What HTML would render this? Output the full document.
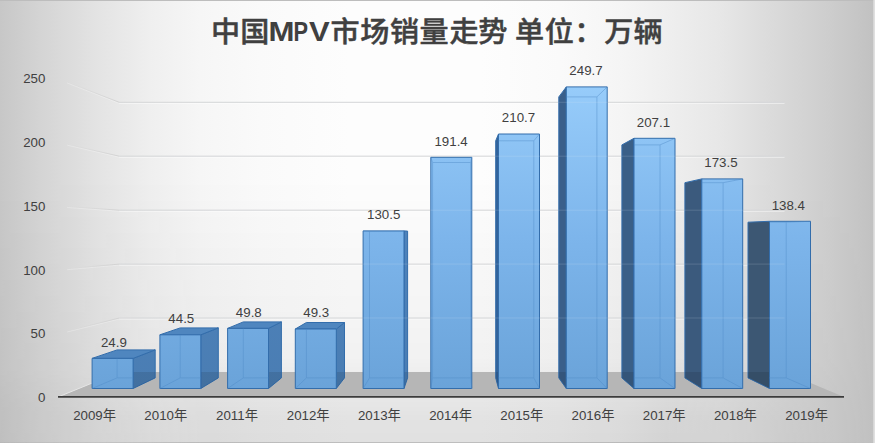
<!DOCTYPE html>
<html lang="zh"><head><meta charset="utf-8"><title>中国MPV市场销量走势</title>
<style>html,body{margin:0;padding:0;background:#d0d0d0}body{width:875px;height:443px;overflow:hidden}svg{display:block}</style></head>
<body>
<svg width="875" height="443" viewBox="0 0 875 443">
<defs>
<linearGradient id="bgh" x1="0" y1="0" x2="1" y2="0"><stop offset="0.0000" stop-color="rgb(199,199,199)"/><stop offset="0.0457" stop-color="rgb(212,212,212)"/><stop offset="0.1143" stop-color="rgb(228,228,228)"/><stop offset="0.1714" stop-color="rgb(239,239,239)"/><stop offset="0.2286" stop-color="rgb(246,246,246)"/><stop offset="0.2971" stop-color="rgb(250,250,250)"/><stop offset="0.4000" stop-color="rgb(253,253,253)"/><stop offset="0.5486" stop-color="rgb(253,253,253)"/><stop offset="0.6400" stop-color="rgb(250,250,250)"/><stop offset="0.7086" stop-color="rgb(245,245,245)"/><stop offset="0.7600" stop-color="rgb(239,239,239)"/><stop offset="0.8229" stop-color="rgb(231,231,231)"/><stop offset="0.8800" stop-color="rgb(219,219,219)"/><stop offset="0.9486" stop-color="rgb(205,205,205)"/><stop offset="1.0000" stop-color="rgb(193,193,193)"/></linearGradient>
<linearGradient id="bgv" x1="0" y1="0" x2="0" y2="1"><stop offset="0" stop-color="#000" stop-opacity="0"/><stop offset="0.4" stop-color="#000" stop-opacity="0"/><stop offset="0.81" stop-color="#000" stop-opacity="0.045"/><stop offset="0.9" stop-color="#000" stop-opacity="0.085"/><stop offset="0.95" stop-color="#000" stop-opacity="0.105"/><stop offset="1" stop-color="#000" stop-opacity="0.11"/></linearGradient>
<linearGradient id="bgm" x1="0" y1="0" x2="1" y2="0"><stop offset="0" stop-color="#595959"/><stop offset="0.114" stop-color="#999"/><stop offset="0.23" stop-color="#fff"/><stop offset="0.76" stop-color="#fff"/><stop offset="0.88" stop-color="#808080"/><stop offset="1" stop-color="#000"/></linearGradient>
<mask id="mk" maskUnits="userSpaceOnUse" x="0" y="0" width="875" height="443"><rect width="875" height="443" fill="url(#bgm)"/></mask>
<linearGradient id="ff" gradientUnits="userSpaceOnUse" x1="0" y1="86" x2="0" y2="389"><stop offset="0" stop-color="#97ccfa"/><stop offset="0.5" stop-color="#7db5eb"/><stop offset="1" stop-color="#6aa3d9"/></linearGradient>
<linearGradient id="sr" gradientUnits="userSpaceOnUse" x1="0" y1="86" x2="0" y2="389"><stop offset="0" stop-color="#5288c2"/><stop offset="1" stop-color="#4a7db3"/></linearGradient>
<linearGradient id="sl" gradientUnits="userSpaceOnUse" x1="0" y1="86" x2="0" y2="389"><stop offset="0" stop-color="#3f6a99"/><stop offset="1" stop-color="#3a5a7e"/></linearGradient>
</defs>
<rect width="875" height="443" fill="url(#bgh)"/>
<rect width="875" height="443" fill="url(#bgv)" mask="url(#mk)"/>
<rect x="0" y="442.3" width="875" height="0.7" fill="#9a9a9a" opacity="0.7" mask="url(#mk)"/>
<rect x="0" y="0" width="875" height="1" fill="#bdbdbd"/>
<rect x="873.3" y="0" width="1.7" height="443" fill="#e0e0e0"/>
<polygon points="58.0,397.0 844.0,397.0 784.5,372.0 119.2,372.0" fill="#b6b6b6"/>
<line x1="58.0" y1="397.0" x2="119.2" y2="372.0" stroke="#e6e6e6" stroke-width="1"/>
<line x1="119.2" y1="319.0" x2="784.5" y2="319.0" stroke="#ffffff" stroke-width="1" opacity="0.6"/>
<line x1="119.2" y1="318.0" x2="784.5" y2="318.0" stroke="#d4d4d4" stroke-width="1"/>
<linearGradient id="g50" gradientUnits="userSpaceOnUse" x1="67.2" y1="0" x2="119.2" y2="0"><stop offset="0" stop-color="#d2d2d2" stop-opacity="0"/><stop offset="1" stop-color="#d2d2d2"/></linearGradient>
<line x1="67.2" y1="332.0" x2="119.2" y2="319.0" stroke="#fff" stroke-width="1" opacity="0.25"/>
<line x1="67.2" y1="331.0" x2="119.2" y2="318.0" stroke="url(#g50)" stroke-width="1"/>
<line x1="119.2" y1="265.1" x2="784.5" y2="265.1" stroke="#ffffff" stroke-width="1" opacity="0.6"/>
<line x1="119.2" y1="264.1" x2="784.5" y2="264.1" stroke="#d4d4d4" stroke-width="1"/>
<linearGradient id="g100" gradientUnits="userSpaceOnUse" x1="67.2" y1="0" x2="119.2" y2="0"><stop offset="0" stop-color="#d2d2d2" stop-opacity="0"/><stop offset="1" stop-color="#d2d2d2"/></linearGradient>
<line x1="67.2" y1="269.7" x2="119.2" y2="265.1" stroke="#fff" stroke-width="1" opacity="0.25"/>
<line x1="67.2" y1="268.7" x2="119.2" y2="264.1" stroke="url(#g100)" stroke-width="1"/>
<line x1="119.2" y1="211.2" x2="784.5" y2="211.2" stroke="#ffffff" stroke-width="1" opacity="0.6"/>
<line x1="119.2" y1="210.2" x2="784.5" y2="210.2" stroke="#d4d4d4" stroke-width="1"/>
<linearGradient id="g150" gradientUnits="userSpaceOnUse" x1="67.2" y1="0" x2="119.2" y2="0"><stop offset="0" stop-color="#d2d2d2" stop-opacity="0"/><stop offset="1" stop-color="#d2d2d2"/></linearGradient>
<line x1="67.2" y1="207.5" x2="119.2" y2="211.2" stroke="#fff" stroke-width="1" opacity="0.25"/>
<line x1="67.2" y1="206.5" x2="119.2" y2="210.2" stroke="url(#g150)" stroke-width="1"/>
<line x1="119.2" y1="157.2" x2="784.5" y2="157.2" stroke="#ffffff" stroke-width="1" opacity="0.6"/>
<line x1="119.2" y1="156.2" x2="784.5" y2="156.2" stroke="#d4d4d4" stroke-width="1"/>
<linearGradient id="g200" gradientUnits="userSpaceOnUse" x1="67.2" y1="0" x2="119.2" y2="0"><stop offset="0" stop-color="#d2d2d2" stop-opacity="0"/><stop offset="1" stop-color="#d2d2d2"/></linearGradient>
<line x1="67.2" y1="145.2" x2="119.2" y2="157.2" stroke="#fff" stroke-width="1" opacity="0.25"/>
<line x1="67.2" y1="144.2" x2="119.2" y2="156.2" stroke="url(#g200)" stroke-width="1"/>
<line x1="119.2" y1="103.3" x2="784.5" y2="103.3" stroke="#ffffff" stroke-width="1" opacity="0.6"/>
<line x1="119.2" y1="102.3" x2="784.5" y2="102.3" stroke="#d4d4d4" stroke-width="1"/>
<linearGradient id="g250" gradientUnits="userSpaceOnUse" x1="67.2" y1="0" x2="119.2" y2="0"><stop offset="0" stop-color="#d2d2d2" stop-opacity="0"/><stop offset="1" stop-color="#d2d2d2"/></linearGradient>
<line x1="67.2" y1="83.0" x2="119.2" y2="103.3" stroke="#fff" stroke-width="1" opacity="0.25"/>
<line x1="67.2" y1="82.0" x2="119.2" y2="102.3" stroke="url(#g250)" stroke-width="1"/>
<g stroke="#336dab" stroke-width="1" stroke-linejoin="round">
<polygon points="133.1,358.4 155.2,349.9 155.2,377.9 133.1,388.5" fill="url(#sr)"/>
<polygon points="133.1,372.0 155.2,372.0 155.2,377.9 133.1,388.5" fill="#000" fill-opacity="0.1" stroke="none"/>
<polygon points="92.1,358.4 133.1,358.4 155.2,349.9 117.1,349.9" fill="#4f86bf"/>
<polygon points="92.1,358.4 133.1,358.4 133.1,388.5 92.1,388.5" fill="url(#ff)"/>
</g>
<g stroke="#4f8ac6" stroke-width="0.8" opacity="0.55" fill="none">
<line x1="117.1" y1="358.4" x2="117.1" y2="377.9" />
<line x1="117.1" y1="377.9" x2="133.1" y2="377.9" />
<line x1="92.1" y1="388.5" x2="117.1" y2="377.9" />
</g>
<g stroke="#336dab" stroke-width="1" stroke-linejoin="round">
<polygon points="200.8,334.8 218.3,327.9 218.3,377.9 200.8,388.5" fill="url(#sr)"/>
<polygon points="200.8,372.0 218.3,372.0 218.3,377.9 200.8,388.5" fill="#000" fill-opacity="0.1" stroke="none"/>
<polygon points="159.9,334.8 200.8,334.8 218.3,327.9 180.2,327.9" fill="#4f86bf"/>
<polygon points="159.9,334.8 200.8,334.8 200.8,388.5 159.9,388.5" fill="url(#ff)"/>
</g>
<g stroke="#4f8ac6" stroke-width="0.8" opacity="0.55" fill="none">
<line x1="180.2" y1="334.8" x2="180.2" y2="377.9" />
<line x1="180.2" y1="377.9" x2="200.8" y2="377.9" />
<line x1="159.9" y1="388.5" x2="180.2" y2="377.9" />
</g>
<g stroke="#336dab" stroke-width="1" stroke-linejoin="round">
<polygon points="268.5,328.4 281.4,321.9 281.4,377.9 268.5,388.5" fill="url(#sr)"/>
<polygon points="268.5,372.0 281.4,372.0 281.4,377.9 268.5,388.5" fill="#000" fill-opacity="0.1" stroke="none"/>
<polygon points="227.6,328.4 268.5,328.4 281.4,321.9 243.3,321.9" fill="#4f86bf"/>
<polygon points="227.6,328.4 268.5,328.4 268.5,388.5 227.6,388.5" fill="url(#ff)"/>
</g>
<g stroke="#4f8ac6" stroke-width="0.8" opacity="0.55" fill="none">
<line x1="243.3" y1="328.4" x2="243.3" y2="377.9" />
<line x1="243.3" y1="377.9" x2="268.5" y2="377.9" />
<line x1="227.6" y1="388.5" x2="243.3" y2="377.9" />
</g>
<g stroke="#336dab" stroke-width="1" stroke-linejoin="round">
<polygon points="336.3,329.0 344.5,322.5 344.5,377.9 336.3,388.5" fill="url(#sr)"/>
<polygon points="336.3,372.0 344.5,372.0 344.5,377.9 336.3,388.5" fill="#000" fill-opacity="0.1" stroke="none"/>
<polygon points="295.3,329.0 336.3,329.0 344.5,322.5 306.4,322.5" fill="#4f86bf"/>
<polygon points="295.3,329.0 336.3,329.0 336.3,388.5 295.3,388.5" fill="url(#ff)"/>
</g>
<g stroke="#4f8ac6" stroke-width="0.8" opacity="0.55" fill="none">
<line x1="306.4" y1="329.0" x2="306.4" y2="377.9" />
<line x1="306.4" y1="377.9" x2="336.3" y2="377.9" />
<line x1="295.3" y1="388.5" x2="306.4" y2="377.9" />
</g>
<g stroke="#336dab" stroke-width="1" stroke-linejoin="round">
<polygon points="404.0,230.9 407.6,231.1 407.6,377.9 404.0,388.5" fill="url(#sr)"/>
<polygon points="404.0,372.0 407.6,372.0 407.6,377.9 404.0,388.5" fill="#000" fill-opacity="0.1" stroke="none"/>
<polygon points="363.1,230.9 404.0,230.9 404.0,388.5 363.1,388.5" fill="url(#ff)"/>
</g>
<g stroke="#4f8ac6" stroke-width="0.8" opacity="0.55" fill="none">
<line x1="369.5" y1="231.1" x2="369.5" y2="377.9" />
<line x1="369.5" y1="377.9" x2="404.0" y2="377.9" />
<line x1="363.1" y1="388.5" x2="369.5" y2="377.9" />
<line x1="363.1" y1="230.9" x2="369.5" y2="231.1" />
<line x1="369.5" y1="231.1" x2="404.0" y2="231.1" />
</g>
<g stroke="#336dab" stroke-width="1" stroke-linejoin="round">
<polygon points="430.8,157.3 471.8,157.3 471.8,388.5 430.8,388.5" fill="url(#ff)"/>
</g>
<g stroke="#4f8ac6" stroke-width="0.8" opacity="0.55" fill="none">
<line x1="432.6" y1="162.5" x2="432.6" y2="377.9" />
<line x1="470.7" y1="162.5" x2="470.7" y2="377.9" />
<line x1="432.6" y1="377.9" x2="470.7" y2="377.9" />
<line x1="430.8" y1="388.5" x2="432.6" y2="377.9" />
<line x1="471.8" y1="388.5" x2="470.7" y2="377.9" />
<line x1="430.8" y1="157.3" x2="432.6" y2="162.5" />
<line x1="471.8" y1="157.3" x2="470.7" y2="162.5" />
<line x1="432.6" y1="162.5" x2="470.7" y2="162.5" />
</g>
<g stroke="#336dab" stroke-width="1" stroke-linejoin="round">
<polygon points="498.5,134.0 495.7,140.8 495.7,377.9 498.5,388.5" fill="#33639a"/>
<polygon points="498.5,372.0 495.7,372.0 495.7,377.9 498.5,388.5" fill="#000" fill-opacity="0.1" stroke="none"/>
<polygon points="498.5,134.0 539.5,134.0 539.5,388.5 498.5,388.5" fill="url(#ff)"/>
</g>
<g stroke="#4f8ac6" stroke-width="0.8" opacity="0.55" fill="none">
<line x1="533.8" y1="140.8" x2="533.8" y2="377.9" />
<line x1="533.8" y1="377.9" x2="498.5" y2="377.9" />
<line x1="539.5" y1="388.5" x2="533.8" y2="377.9" />
<line x1="539.5" y1="134.0" x2="533.8" y2="140.8" />
<line x1="533.8" y1="140.8" x2="498.5" y2="140.8" />
</g>
<g stroke="#336dab" stroke-width="1" stroke-linejoin="round">
<polygon points="566.3,86.9 558.8,96.9 558.8,377.9 566.3,388.5" fill="#3a5f8a"/>
<polygon points="566.3,372.0 558.8,372.0 558.8,377.9 566.3,388.5" fill="#000" fill-opacity="0.1" stroke="none"/>
<polygon points="566.3,86.9 607.2,86.9 607.2,388.5 566.3,388.5" fill="url(#ff)"/>
</g>
<g stroke="#4f8ac6" stroke-width="0.8" opacity="0.55" fill="none">
<line x1="596.9" y1="96.9" x2="596.9" y2="377.9" />
<line x1="596.9" y1="377.9" x2="566.3" y2="377.9" />
<line x1="607.2" y1="388.5" x2="596.9" y2="377.9" />
<line x1="607.2" y1="86.9" x2="596.9" y2="96.9" />
<line x1="596.9" y1="96.9" x2="566.3" y2="96.9" />
</g>
<g stroke="#336dab" stroke-width="1" stroke-linejoin="round">
<polygon points="634.0,138.3 621.9,144.9 621.9,377.9 634.0,388.5" fill="#3a5f87"/>
<polygon points="634.0,372.0 621.9,372.0 621.9,377.9 634.0,388.5" fill="#000" fill-opacity="0.1" stroke="none"/>
<polygon points="634.0,138.3 675.0,138.3 675.0,388.5 634.0,388.5" fill="url(#ff)"/>
</g>
<g stroke="#4f8ac6" stroke-width="0.8" opacity="0.55" fill="none">
<line x1="660.0" y1="144.9" x2="660.0" y2="377.9" />
<line x1="660.0" y1="377.9" x2="634.0" y2="377.9" />
<line x1="675.0" y1="388.5" x2="660.0" y2="377.9" />
<line x1="675.0" y1="138.3" x2="660.0" y2="144.9" />
<line x1="660.0" y1="144.9" x2="634.0" y2="144.9" />
</g>
<g stroke="#336dab" stroke-width="1" stroke-linejoin="round">
<polygon points="701.8,178.9 684.9,182.7 684.9,377.9 701.8,388.5" fill="#3b5a7d"/>
<polygon points="701.8,372.0 684.9,372.0 684.9,377.9 701.8,388.5" fill="#000" fill-opacity="0.1" stroke="none"/>
<polygon points="701.8,178.9 742.7,178.9 742.7,388.5 701.8,388.5" fill="url(#ff)"/>
</g>
<g stroke="#4f8ac6" stroke-width="0.8" opacity="0.55" fill="none">
<line x1="723.1" y1="182.7" x2="723.1" y2="377.9" />
<line x1="723.1" y1="377.9" x2="701.8" y2="377.9" />
<line x1="742.7" y1="388.5" x2="723.1" y2="377.9" />
<line x1="742.7" y1="178.9" x2="723.1" y2="182.7" />
<line x1="723.1" y1="182.7" x2="701.8" y2="182.7" />
</g>
<g stroke="#336dab" stroke-width="1" stroke-linejoin="round">
<polygon points="769.5,221.3 748.0,222.2 748.0,377.9 769.5,388.5" fill="#3c5773"/>
<polygon points="769.5,372.0 748.0,372.0 748.0,377.9 769.5,388.5" fill="#000" fill-opacity="0.1" stroke="none"/>
<polygon points="769.5,221.3 810.5,221.3 810.5,388.5 769.5,388.5" fill="url(#ff)"/>
</g>
<g stroke="#4f8ac6" stroke-width="0.8" opacity="0.55" fill="none">
<line x1="786.2" y1="222.2" x2="786.2" y2="377.9" />
<line x1="786.2" y1="377.9" x2="769.5" y2="377.9" />
<line x1="810.5" y1="388.5" x2="786.2" y2="377.9" />
<line x1="810.5" y1="221.3" x2="786.2" y2="222.2" />
<line x1="786.2" y1="222.2" x2="769.5" y2="222.2" />
</g>
<line x1="119.2" y1="318.0" x2="784.5" y2="318.0" stroke="#dfe8f2" stroke-width="1" opacity="0.16"/>
<line x1="119.2" y1="264.1" x2="784.5" y2="264.1" stroke="#dfe8f2" stroke-width="1" opacity="0.16"/>
<line x1="119.2" y1="210.2" x2="784.5" y2="210.2" stroke="#dfe8f2" stroke-width="1" opacity="0.16"/>
<line x1="119.2" y1="156.2" x2="784.5" y2="156.2" stroke="#dfe8f2" stroke-width="1" opacity="0.16"/>
<line x1="119.2" y1="102.3" x2="784.5" y2="102.3" stroke="#dfe8f2" stroke-width="1" opacity="0.16"/>
<line x1="58.0" y1="396.8" x2="844.0" y2="396.8" stroke="#3c3c3c" stroke-width="1.8"/>
<g font-family="'Liberation Sans','Noto Sans CJK SC',sans-serif" fill="#404040" font-size="13.3">
<text x="45.4" y="401.9" text-anchor="end">0</text>
<text x="45.4" y="338.2" text-anchor="end">50</text>
<text x="45.4" y="274.5" text-anchor="end">100</text>
<text x="45.4" y="210.7" text-anchor="end">150</text>
<text x="45.4" y="147.0" text-anchor="end">200</text>
<text x="45.4" y="83.3" text-anchor="end">250</text>
<text x="94.6" y="419.9" text-anchor="middle">2009年</text>
<text x="165.8" y="419.9" text-anchor="middle">2010年</text>
<text x="237.0" y="419.9" text-anchor="middle">2011年</text>
<text x="308.2" y="419.9" text-anchor="middle">2012年</text>
<text x="379.4" y="419.9" text-anchor="middle">2013年</text>
<text x="450.6" y="419.9" text-anchor="middle">2014年</text>
<text x="521.8" y="419.9" text-anchor="middle">2015年</text>
<text x="593.0" y="419.9" text-anchor="middle">2016年</text>
<text x="664.2" y="419.9" text-anchor="middle">2017年</text>
<text x="735.4" y="419.9" text-anchor="middle">2018年</text>
<text x="806.6" y="419.9" text-anchor="middle">2019年</text>
<text x="113.9" y="346.8" text-anchor="middle">24.9</text>
<text x="181.3" y="323.2" text-anchor="middle">44.5</text>
<text x="248.8" y="316.8" text-anchor="middle">49.8</text>
<text x="316.2" y="317.4" text-anchor="middle">49.3</text>
<text x="383.7" y="219.3" text-anchor="middle">130.5</text>
<text x="451.1" y="145.7" text-anchor="middle">191.4</text>
<text x="518.5" y="122.4" text-anchor="middle">210.7</text>
<text x="586.0" y="75.3" text-anchor="middle">249.7</text>
<text x="653.4" y="126.7" text-anchor="middle">207.1</text>
<text x="720.9" y="167.3" text-anchor="middle">173.5</text>
<text x="788.3" y="209.7" text-anchor="middle">138.4</text>
</g>
<g font-family="'Liberation Sans','Noto Sans CJK SC',sans-serif" font-weight="bold" fill="#404040">
<g font-size="28" font-weight="500" stroke="#404040" stroke-width="0.45" stroke-linejoin="round">
<text transform="scale(1.04,1)" x="202.97 231.05" y="42.0">中国</text>
</g><g font-size="27.2">
<text transform="translate(268.45,41.4) scale(1.145,1)">M</text>
<text transform="translate(293.57,41.4) scale(0.800,1)">P</text>
<text transform="translate(308.88,41.4) scale(1.140,1)">V</text>
</g><g font-size="28" font-weight="500" stroke="#404040" stroke-width="0.45" stroke-linejoin="round">
<text transform="scale(1.04,1)" x="317.81 346.48 375.02 403.49 432.21 459.96" y="42.0">市场销量走势</text>
<text transform="scale(1.04,1)" x="495.26 523.91 552.10" y="42.0">单位：</text>
<text transform="scale(1.04,1)" x="581.03 609.10" y="42.0">万辆</text>
</g></g>
</svg>
</body></html>
